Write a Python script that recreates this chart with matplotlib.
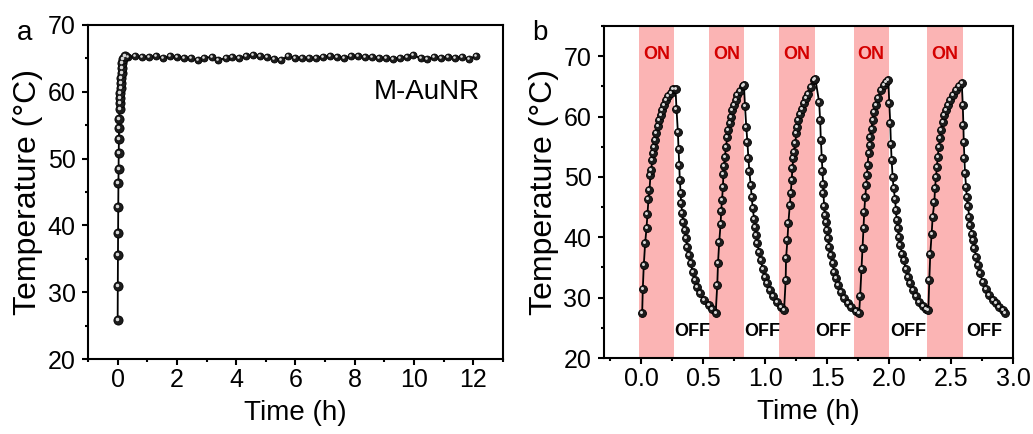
"""
photothermal heating curves of M-AuNR
  a: long-term heating under continuous irradiation
  b: five laser on/off cycles
"""

import matplotlib
matplotlib.use('Agg')
import matplotlib.pyplot as plt
import matplotlib.transforms as mtransforms
from matplotlib.ticker import MultipleLocator

plt.rcParams['font.family'] = ['Liberation Sans', 'DejaVu Sans']
plt.rcParams['axes.linewidth'] = 1.5
plt.rcParams['xtick.major.width'] = 1.5
plt.rcParams['ytick.major.width'] = 1.5
plt.rcParams['xtick.minor.width'] = 1.5
plt.rcParams['ytick.minor.width'] = 1.5
plt.rcParams['xtick.major.size'] = 4
plt.rcParams['ytick.major.size'] = 4
plt.rcParams['xtick.minor.size'] = 2.2
plt.rcParams['ytick.minor.size'] = 2.2

# panel a: rise then plateau over 12 h
rise_time = [0.000, 0.005, 0.010, 0.015, 0.020, 0.026, 0.031, 0.036, 0.042, 0.048,
             0.055, 0.063, 0.072, 0.081, 0.090, 0.100, 0.110, 0.120, 0.130, 0.141,
             0.160, 0.185, 0.260]
rise_temp = [25.8, 31.0, 35.5, 38.9, 42.7, 46.3, 48.4, 50.8, 52.9, 54.6,
             56.0, 57.5, 58.3, 59.0, 59.8, 60.5, 61.3, 62.0, 62.8, 63.5,
             64.3, 64.9, 65.3]
plateau_time = [0.35, 0.58, 0.82, 1.05, 1.29, 1.52, 1.76, 1.99, 2.23, 2.46,
                2.70, 2.93, 3.17, 3.40, 3.64, 3.87, 4.11, 4.34, 4.58, 4.81,
                5.05, 5.28, 5.52, 5.75, 5.99, 6.22, 6.46, 6.69, 6.93, 7.16,
                7.40, 7.63, 7.87, 8.10, 8.34, 8.57, 8.81, 9.04, 9.28, 9.51,
                9.75, 9.98, 10.22, 10.45, 10.69, 10.92, 11.16, 11.39, 11.63, 11.86,
                12.10]
plateau_temp = [65.2, 65.3, 65.2, 65.2, 65.3, 65.1, 65.3, 65.2, 65.1, 65.0,
                64.8, 65.1, 65.2, 64.8, 65.0, 65.2, 65.1, 65.3, 65.5, 65.3,
                65.2, 64.9, 64.8, 65.3, 65.1, 65.0, 65.0, 65.1, 65.2, 65.4,
                65.2, 65.1, 65.3, 65.3, 65.2, 65.2, 65.1, 65.0, 64.9, 65.1,
                65.2, 65.5, 65.0, 64.9, 65.2, 65.1, 65.2, 65.1, 65.2, 64.9,
                65.4]

# panel b: on/off cycling, one list pair per cycle
c1_time = [0.008, 0.013, 0.021, 0.032, 0.043, 0.051, 0.059, 0.067, 0.075, 0.081,
           0.089, 0.094, 0.102, 0.110, 0.121, 0.134, 0.145, 0.156, 0.170, 0.183,
           0.199, 0.218, 0.237, 0.258, 0.277,
           0.285, 0.296, 0.302, 0.307, 0.312, 0.318, 0.323, 0.331, 0.339, 0.350,
           0.361, 0.372, 0.385, 0.399, 0.415, 0.434, 0.452, 0.474, 0.506, 0.547,
           0.574]
c1_temp = [27.4, 31.4, 35.4, 39.0, 41.5, 43.8, 46.3, 47.8, 50.3, 51.1,
           52.8, 53.9, 55.0, 56.1, 57.2, 58.4, 59.4, 60.2, 61.1, 61.9,
           62.7, 63.4, 63.9, 64.5, 64.6,
           61.3, 57.5, 54.7, 52.0, 49.5, 47.3, 45.6, 44.0, 42.6, 41.2,
           39.8, 38.4, 37.1, 35.7, 34.3, 32.9, 31.8, 30.7, 29.6, 28.8,
           28.2]
c2_time = [0.601, 0.614, 0.620, 0.630, 0.641, 0.646, 0.652, 0.660, 0.663, 0.668,
           0.676, 0.684, 0.695, 0.703, 0.714, 0.722, 0.735, 0.749, 0.762, 0.776,
           0.797, 0.824, 0.829,
           0.838, 0.848, 0.857, 0.865, 0.873, 0.884, 0.892, 0.900, 0.911, 0.919,
           0.929, 0.937, 0.951, 0.964, 0.980, 0.997, 1.018, 1.040, 1.067, 1.094,
           1.126]
c2_temp = [27.4, 32.1, 35.7, 39.3, 42.2, 44.4, 46.2, 48.4, 50.5, 51.8,
           53.3, 55.0, 56.6, 57.7, 58.9, 60.0, 61.1, 61.9, 62.7, 63.5,
           64.3, 65.1, 65.2,
           61.7, 58.3, 55.8, 53.2, 50.9, 48.6, 46.6, 44.8, 43.1, 41.7,
           40.4, 39.0, 37.6, 36.2, 34.8, 33.5, 32.4, 31.3, 30.2, 29.2,
           28.5]
c3_time = [1.153, 1.166, 1.169, 1.180, 1.188, 1.199, 1.207, 1.215, 1.220, 1.228,
           1.234, 1.242, 1.253, 1.261, 1.269, 1.282, 1.296, 1.315, 1.328, 1.347,
           1.369, 1.396, 1.405,
           1.436, 1.444, 1.450, 1.458, 1.463, 1.468, 1.471, 1.476, 1.482, 1.490,
           1.498, 1.509, 1.517, 1.530, 1.544, 1.557, 1.573, 1.590, 1.611, 1.638,
           1.665, 1.697, 1.732]
c3_temp = [27.9, 32.9, 36.5, 39.5, 42.4, 45.3, 47.4, 49.5, 51.4, 53.2,
           54.2, 55.6, 57.2, 58.3, 59.4, 60.5, 61.3, 62.2, 63.0, 63.8,
           64.9, 66.1, 66.3,
           62.4, 59.4, 56.1, 53.1, 50.9, 48.9, 47.3, 45.1, 43.7, 42.6,
           41.2, 39.8, 38.4, 37.1, 35.7, 34.3, 33.2, 32.1, 31.0, 29.9,
           29.1, 28.4, 27.8]
c4_time = [1.759, 1.767, 1.778, 1.786, 1.794, 1.800, 1.808, 1.816, 1.821, 1.827,
           1.835, 1.843, 1.849, 1.859, 1.867, 1.881, 1.894, 1.913, 1.934, 1.956,
           1.975, 1.994,
           2.002, 2.010, 2.015, 2.021, 2.029, 2.037, 2.048, 2.056, 2.061, 2.069,
           2.080, 2.091, 2.104, 2.118, 2.134, 2.150, 2.172, 2.193, 2.218, 2.245,
           2.271, 2.298]
c4_temp = [27.5, 30.3, 34.8, 38.2, 41.5, 44.2, 46.7, 48.6, 50.3, 52.0,
           53.9, 55.3, 56.6, 58.0, 59.4, 60.8, 61.9, 63.0, 64.4, 65.2,
           65.8, 66.1,
           62.2, 58.9, 55.5, 52.8, 50.0, 48.1, 46.4, 44.5, 42.8, 41.5,
           40.1, 38.7, 37.3, 36.2, 34.8, 33.5, 32.4, 31.3, 30.2, 29.3,
           28.6, 28.2]
c5_time = [2.317, 2.325, 2.333, 2.344, 2.352, 2.366, 2.371, 2.379, 2.387, 2.393,
           2.401, 2.412, 2.420, 2.433, 2.447, 2.460, 2.474, 2.492, 2.514, 2.541,
           2.568, 2.587,
           2.595, 2.600, 2.603, 2.608, 2.613, 2.622, 2.627, 2.635, 2.649, 2.657,
           2.668, 2.676, 2.689, 2.702, 2.716, 2.735, 2.756, 2.783, 2.810, 2.837,
           2.864, 2.891, 2.918, 2.937]
c5_temp = [27.9, 33.0, 37.3, 40.6, 43.4, 45.9, 48.1, 50.0, 51.7, 53.3,
           55.0, 56.4, 57.7, 59.1, 60.2, 61.1, 61.9, 62.7, 63.5, 64.4,
           65.0, 65.5,
           61.9, 58.6, 55.8, 53.1, 50.6, 48.4, 46.7, 45.1, 43.4, 42.0,
           40.6, 39.5, 38.2, 36.8, 35.4, 34.0, 32.6, 31.5, 30.4, 29.6,
           29.1, 28.5, 27.9, 27.4]

# laser-on windows (h) and label positions
on_start = [-0.02, 0.546, 1.112, 1.714, 2.304]
on_end = [0.264, 0.829, 1.400, 1.997, 2.595]
off_label_x = [0.41, 0.98, 1.55, 2.155, 2.77]

cycle_time = c1_time + c2_time + c3_time + c4_time + c5_time
cycle_temp = c1_temp + c2_temp + c3_temp + c4_temp + c5_temp


def balls(ax, x, y, ms, line=True):
    # black sphere-like markers: dark disc + small offset highlight
    if line:
        ax.plot(x, y, '-', color='black', lw=1.3, zorder=2)
    ax.plot(x, y, 'o', ms=ms, mfc='#1c1c1c', mec='black', mew=0.6, zorder=3)
    hl = mtransforms.offset_copy(ax.transData, fig=ax.figure, x=-1.0, y=1.0, units='dots')
    ax.plot(x, y, 'o', ms=ms * 0.38, mfc='#d8d8d8', mec='none', transform=hl, zorder=4)


def style(ax):
    ax.tick_params(which='both', direction='out', top=False, right=False,
                   labelsize=18)
    ax.tick_params(axis='x', which='both', pad=2.5)
    ax.tick_params(axis='y', which='both', pad=5)


fig = plt.figure(figsize=(10.33, 4.34), dpi=100)

# ---- panel a
axa = fig.add_axes([0.0852, 0.1728, 0.4017, 0.7696])
balls(axa, rise_time + plateau_time, rise_temp + plateau_temp, 5.0)
balls(axa, rise_time, rise_temp, 6.6, line=False)
axa.set_xlim(-1, 13)
axa.set_ylim(20, 70)
axa.xaxis.set_major_locator(MultipleLocator(2))
axa.xaxis.set_minor_locator(MultipleLocator(1))
axa.yaxis.set_major_locator(MultipleLocator(10))
axa.yaxis.set_minor_locator(MultipleLocator(5))
style(axa)
axa.set_xlabel('Time (h)', fontsize=20, labelpad=6)
axa.set_ylabel('Temperature (°C)', fontsize=23, labelpad=3)
axa.text(0.945, 0.80, 'M-AuNR', transform=axa.transAxes, ha='right', va='center',
         fontsize=20)

# ---- panel b
axb = fig.add_axes([0.5847, 0.1751, 0.3959, 0.7650])
for s, e in zip(on_start, on_end):
    axb.axvspan(s, e, color='#fbb4b4', lw=0, zorder=0)
    axb.text((s + e) / 2, 70.3, 'ON', color='#d40000', fontsize=13,
             fontweight='bold', ha='center', va='center')
for xo in off_label_x:
    axb.text(xo, 24.4, 'OFF', color='black', fontsize=13, fontweight='bold',
             ha='center', va='center')
balls(axb, cycle_time, cycle_temp, 5.7)
axb.set_xlim(-0.3, 3.0)
axb.set_ylim(20, 75)
axb.xaxis.set_major_locator(MultipleLocator(0.5))
axb.xaxis.set_minor_locator(MultipleLocator(0.25))
axb.xaxis.set_major_formatter(plt.FormatStrFormatter('%.1f'))
axb.yaxis.set_major_locator(MultipleLocator(10))
axb.yaxis.set_minor_locator(MultipleLocator(5))
style(axb)
axb.set_xlabel('Time (h)', fontsize=20, labelpad=6)
axb.set_ylabel('Temperature (°C)', fontsize=23, labelpad=3)

fig.text(25 / 1033, 1 - 33 / 434, 'a', fontsize=20, ha='center', va='center')
fig.text(540 / 1033, 1 - 33 / 434, 'b', fontsize=20, ha='center', va='center')

fig.savefig('out.png', dpi=100)
